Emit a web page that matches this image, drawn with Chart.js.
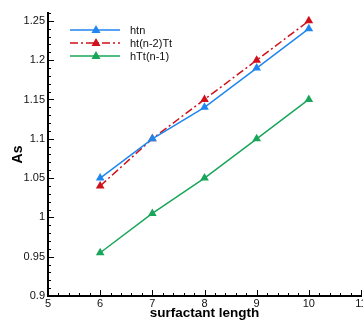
<!DOCTYPE html>
<html>
<head>
<meta charset="utf-8">
<script src="https://cdn.jsdelivr.net/npm/chart.js@4.4.0/dist/chart.umd.min.js"></script>
<style>
  html, body { margin: 0; padding: 0; background: #fff; overflow: hidden; }
  #wrap { width: 375px; height: 321px; }
</style>
</head>
<body>
<div id="wrap"><canvas id="chart" width="375" height="321"></canvas></div>
<script>
// surfactant length
const lengths = [6, 7, 8, 9, 10];
// As values
const htn = [1.05, 1.10, 1.14, 1.19, 1.24];
const htn2Tt = [1.04, 1.10, 1.15, 1.20, 1.25];
const hTtn1 = [0.955, 1.005, 1.05, 1.10, 1.15];
const seriesNames = ['htn', 'ht(n-2)Tt', 'hTt(n-1)'];

const FONT = 'Liberation Sans, Arial, sans-serif';

function toPoints(ys) {
  return lengths.map((x, i) => ({ x: x, y: ys[i] }));
}

// ticks pointing into the plot, with minor ticks
const innerTicks = {
  id: 'innerTicks',
  afterDraw(chart) {
    const ctx = chart.ctx;
    const xs = chart.scales.x;
    const ys = chart.scales.y;
    const left = xs.left, bottom = ys.bottom;
    ctx.save();
    ctx.strokeStyle = '#000';
    ctx.lineWidth = 1;
    ctx.beginPath();
    for (let k = 0; k <= 30; k++) {
      const v = 5 + k * 0.2;
      const px = Math.round(xs.getPixelForValue(v)) + 0.5;
      const len = k % 5 === 0 ? 6 : 3;
      ctx.moveTo(px, bottom);
      ctx.lineTo(px, bottom - len);
    }
    for (let k = 0; k <= 36; k++) {
      const v = 0.9 + k * 0.01;
      const py = Math.round(ys.getPixelForValue(v)) + 0.5;
      const len = k % 5 === 0 ? 6 : 3;
      ctx.moveTo(left, py);
      ctx.lineTo(left + len, py);
    }
    ctx.stroke();
    ctx.restore();
  }
};

// legend inside the plot, top left
const insideLegend = {
  id: 'insideLegend',
  afterDraw(chart) {
    const ctx = chart.ctx;
    ctx.save();
    chart.data.datasets.forEach((ds, i) => {
      const y = 30 + i * 13;
      ctx.strokeStyle = ds.borderColor;
      ctx.lineWidth = ds.borderWidth;
      ctx.setLineDash(ds.borderDash || []);
      ctx.beginPath();
      ctx.moveTo(70, y);
      ctx.lineTo(120, y);
      ctx.stroke();
      ctx.setLineDash([]);
      ctx.fillStyle = ds.backgroundColor;
      ctx.beginPath();
      ctx.moveTo(96, y - 5);
      ctx.lineTo(100.5, y + 3);
      ctx.lineTo(91.5, y + 3);
      ctx.closePath();
      ctx.fill();
      ctx.fillStyle = '#111';
      ctx.font = '11px ' + FONT;
      ctx.textBaseline = 'middle';
      ctx.fillText(ds.label, 130, y + 1);
    });
    ctx.restore();
  }
};

new Chart(document.getElementById('chart'), {
  type: 'line',
  data: {
    datasets: [
      {
        label: seriesNames[0],
        data: toPoints(htn),
        borderColor: '#1f86f0',
        backgroundColor: '#1f86f0',
        borderWidth: 1.5,
        pointStyle: 'triangle',
        pointRadius: 5,
        pointBorderWidth: 0
      },
      {
        label: seriesNames[1],
        data: toPoints(htn2Tt),
        borderColor: '#d0101a',
        backgroundColor: '#d0101a',
        borderWidth: 1.5,
        borderDash: [8, 3, 2, 3],
        pointStyle: 'triangle',
        pointRadius: 5,
        pointBorderWidth: 0
      },
      {
        label: seriesNames[2],
        data: toPoints(hTtn1),
        borderColor: '#1aa65a',
        backgroundColor: '#1aa65a',
        borderWidth: 1.5,
        pointStyle: 'triangle',
        pointRadius: 5,
        pointBorderWidth: 0
      }
    ]
  },
  options: {
    responsive: false,
    animation: false,
    layout: { padding: { left: 0, right: 14, top: 13, bottom: 0 } },
    plugins: { legend: { display: false }, tooltip: { enabled: false } },
    scales: {
      x: {
        type: 'linear',
        min: 5,
        max: 11,
        grid: { display: false, drawTicks: false },
        border: { display: true, color: '#000', width: 2 },
        ticks: {
          stepSize: 1,
          padding: 1,
          color: '#111',
          font: { family: FONT, size: 11 },
          maxRotation: 0
        },
        title: {
          display: true,
          text: 'surfactant length',
          color: '#000',
          font: { family: FONT, size: 13.5, weight: 'bold' },
          padding: { top: -2, bottom: 0 }
        },
        afterFit(scale) { scale.height = 25; }
      },
      y: {
        type: 'linear',
        min: 0.9,
        max: 1.26,
        grid: { display: false, drawTicks: false },
        border: { display: true, color: '#000', width: 2 },
        ticks: {
          stepSize: 0.05,
          includeBounds: false,
          padding: 3,
          color: '#111',
          font: { family: FONT, size: 11 },
          callback: v => String(Math.round(v * 100) / 100)
        },
        title: {
          display: true,
          text: 'As',
          color: '#000',
          font: { family: FONT, size: 14, weight: 'bold' },
          padding: { top: 10, bottom: 0 }
        },
        afterFit(scale) { scale.width = 48; }
      }
    }
  },
  plugins: [innerTicks, insideLegend]
});
</script>
</body>
</html>
